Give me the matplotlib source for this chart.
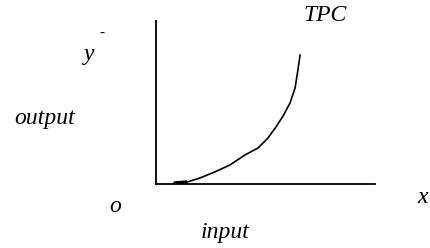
import matplotlib
matplotlib.use("Agg")
import matplotlib.pyplot as plt

# Кривая TPC (input -> output), значения в условных единицах осей 0..100
input_vals = [8.2, 14.2, 20.1, 26.9, 33.8, 40.6, 46.6, 51.1, 54.8, 58.0, 61.2, 63.5, 64.8, 65.8]
output_vals = [0.6, 1.2, 3.7, 7.4, 11.7, 17.8, 22.1, 28.2, 35.0, 41.7, 49.7, 58.9, 69.9, 79.1]

plt.rcParams['font.family'] = ['Liberation Serif', 'DejaVu Serif']

fig = plt.figure(figsize=(4.31, 2.48), dpi=100)
ax = fig.add_axes([156 / 431, 1 - 184 / 248, 219 / 431, 163 / 248])

ax.plot(input_vals, output_vals, color='black', linewidth=1.2)
ax.plot(input_vals[:2], output_vals[:2], color='black', linewidth=2.5, solid_capstyle='butt')

ax.set_xlim(0, 100)
ax.set_ylim(0, 100)
for side in ['top', 'right']:
    ax.spines[side].set_visible(False)
for side in ['left', 'bottom']:
    ax.spines[side].set_linewidth(1.3)
ax.set_xticks([])
ax.set_yticks([])

txt = dict(fontstyle='italic', fontsize=17, ha='center', va='center', clip_on=False)
ax.text(77.2, 103.5, 'TPC', **txt)
ax.text(-30.5, 79.5, 'y', **txt)
ax.text(-24.5, 92.5, '-', fontstyle='italic', fontsize=11, ha='center', va='center', clip_on=False)
ax.text(-50.7, 40.0, 'output', **txt)
ax.text(-18.7, -13.5, 'o', **txt)
ax.text(31.5, -29.5, 'input', **txt)
ax.text(121.9, -8.0, 'x', **txt)

fig.savefig("out.png", dpi=100)
